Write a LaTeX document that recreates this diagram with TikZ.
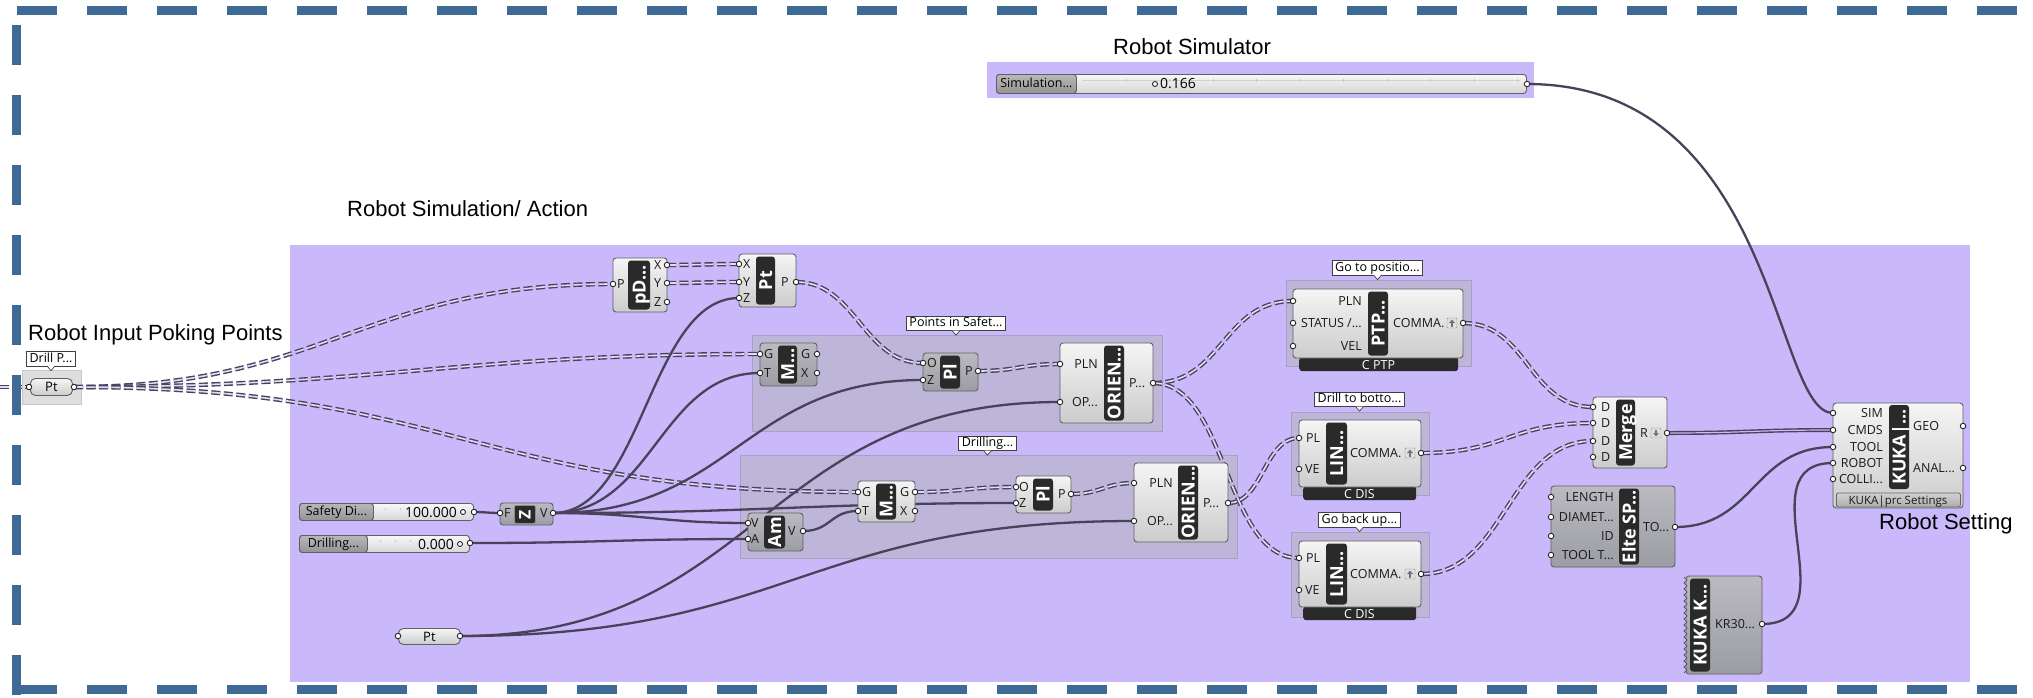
\documentclass[tikz,border=0pt]{standalone}
\usepackage{fontspec}
\setmainfont{Open Sans}
\newfontfamily\titlefont{Liberation Sans}
\usetikzlibrary{calc}
\pgfdeclarelayer{zones}
\pgfdeclarelayer{wires}
\pgfdeclarelayer{front}
\pgfsetlayers{zones,wires,main,front}

\definecolor{canvasviolet}{RGB}{201,184,250}
\definecolor{groupfill}{RGB}{190,182,217}
\definecolor{groupline}{RGB}{168,160,196}
\definecolor{wirecol}{RGB}{72,66,90}
\definecolor{frameblue}{RGB}{64,106,150}
\definecolor{barcol}{RGB}{42,42,42}
\definecolor{edgecol}{RGB}{96,96,100}
\definecolor{dtop}{RGB}{186,186,192}
\definecolor{dbot}{RGB}{156,156,164}

% component: name, style, x1, y1, x2, y2, bar x1, bar x2, bar text
\newcommand\ghc[9]{%
  \node[#2, anchor=north west, minimum width=#5-#3, minimum height=#6-#4] (#1) at (#3,#4) {};
  \node[cbar, anchor=north west, minimum width=#8-#7, minimum height=#6-#4-5] (#1-bar) at (#7,#4+2.5) {};
  \node[bartext] (#1-name) at (#1-bar.center) {#9};}
% grip with its caption: name, x, y, caption x, caption, anchor
\newcommand\gp[6]{%
  \node[port] (#1) at (#2,#3) {};
  \node[plabel, anchor=#6] (#1-t) at (#4,#3) {#5};}
% group caption with pointer: name, x, y, text
\newcommand\gtag[4]{%
  \node[glabel] (#1) at (#2,#3) {#4};
  \draw[black!75, fill=white, line width=0.7pt] ($(#1.south)+(-4,-0.6)$) -- ++(4,4.6) -- ++(4,-4.6);}
% small flatten / graft icons
\newcommand\upicon[3]{%
  \node[icon] (#1) at (#2,#3) {};
  \fill[black!55] (#2-3,#3) -- (#2,#3-3.5) -- (#2+3,#3) -- cycle;
  \draw[black!55, line width=1.3pt] (#2,#3) -- (#2,#3+3.5);}
\newcommand\downicon[3]{%
  \node[icon] (#1) at (#2,#3) {};
  \fill[black!55] (#2-3,#3) -- (#2,#3+3.5) -- (#2+3,#3) -- cycle;
  \draw[black!55, line width=1.3pt] (#2,#3) -- (#2,#3-3.5);}
% wires
\newcommand\wire[4][wireS]{\draw[#1] (#2.center) .. controls +(#4,0) and +(-#4,0) .. (#3.center);}
\newcommand\wirea[5][wireS]{\draw[#1] (#2.center) .. controls +(#4,0) and +(-#5,0) .. (#3.center);}

\begin{document}
\begin{tikzpicture}[x=1pt, y=-1pt,
  zone/.style={fill=canvasviolet, inner sep=0pt, outer sep=0pt},
  grp/.style={fill=groupfill, draw=groupline, line width=0.8pt, inner sep=0pt, outer sep=0pt},
  lightbody/.style={draw=edgecol, line width=0.9pt, rounded corners=3pt, top color=white!96!black, bottom color=white!80!black, inner sep=0pt, outer sep=0pt},
  darkbody/.style={lightbody, top color=dtop, bottom color=dbot},
  cbar/.style={fill=barcol, rounded corners=3pt, inner sep=0pt, outer sep=0pt},
  bartext/.style={text=white, font=\fontsize{18}{18}\selectfont\bfseries, rotate=90, inner sep=0pt, text height=13pt, text depth=0pt},
  port/.style={circle, draw=black!85, fill=white, line width=0.9pt, minimum size=5.5pt, inner sep=0pt},
  plabel/.style={font=\fontsize{12.5}{12.5}\selectfont, text=black!90, inner sep=0pt, text height=9pt, text depth=0pt},
  glabel/.style={draw=black!75, fill=white, line width=0.7pt, font=\fontsize{12.5}{12.5}\selectfont, inner xsep=3pt, inner ysep=1.5pt, text height=9pt, text depth=2.5pt},
  capsule/.style={draw=edgecol, line width=0.9pt, rounded corners=5pt, top color=white!96!black, bottom color=white!80!black, inner sep=0pt, font=\fontsize{13}{13}\selectfont},
  footer/.style={fill=barcol, rounded corners=3pt, inner sep=0pt},
  foottext/.style={text=white, font=\fontsize{12.5}{12.5}\selectfont, inner sep=0pt, text height=9pt, text depth=0pt},
  kfoot/.style={draw=black!60, line width=0.8pt, rounded corners=2pt, top color=white!82!black, bottom color=white!68!black, inner sep=0pt},
  slidebody/.style={draw=edgecol, line width=0.9pt, rounded corners=3pt, top color=white!97!black, bottom color=white!84!black, inner sep=0pt},
  slidelabel/.style={draw=edgecol, line width=0.9pt, rounded corners=3pt, top color=white!72!black, bottom color=white!58!black, inner sep=0pt, font=\fontsize{12.5}{12.5}\selectfont, text height=9pt, text depth=2pt},
  valtext/.style={font=\fontsize{14}{14}\selectfont, inner sep=0pt, text height=10pt, text depth=0pt},
  dot/.style={circle, draw=black!85, line width=0.9pt, minimum size=5pt, inner sep=0pt, fill=white},
  zicon/.style={fill=barcol, draw=black!45, line width=0.8pt, rounded corners=2pt, inner sep=0pt},
  icon/.style={draw=black!45, fill=black!12, rounded corners=1pt, minimum size=10pt, inner sep=0pt},
  title/.style={font=\titlefont\fontsize{22}{22}\selectfont, inner sep=0pt, anchor=base west},
  wireS/.style={draw=wirecol, line width=2.3pt},
  wireL/.style={draw=wirecol, line width=1.4pt, double=canvasviolet!50!white, double distance=1.6pt, dash pattern=on 9pt off 3.5pt},
  wireT/.style={draw=wirecol, line width=1.4pt, double=canvasviolet, double distance=1.2pt},
  frame/.style={draw=frameblue, line width=9pt, dash pattern=on 40pt off 30pt}]
\useasboundingbox (0,0) rectangle (2033,697);

% ---------- canvas zones and groups ----------
\begin{pgfonlayer}{zones}
  \fill[white] (0,0) rectangle (2033,697);
  \node[zone, anchor=north west, minimum width=1680, minimum height=437] (zone-main) at (290,245) {};
  \node[zone, anchor=north west, minimum width=547, minimum height=36] (zone-sim) at (987,62) {};
  \node[grp, anchor=north west, minimum width=410, minimum height=96] (grp-safe) at (752,335) {};
  \node[grp, anchor=north west, minimum width=497, minimum height=103] (grp-drill) at (740,455) {};
  \node[grp, anchor=north west, minimum width=185, minimum height=86] (grp-ptp) at (1286,280) {};
  \node[grp, anchor=north west, minimum width=138, minimum height=83] (grp-lin1) at (1291,412) {};
  \node[grp, anchor=north west, minimum width=138, minimum height=85] (grp-lin2) at (1291,532) {};
  \node[grp, fill=black!13, draw=black!22, anchor=north west, minimum width=59, minimum height=34] (grp-pts) at (22,370) {};
\end{pgfonlayer}

% ---------- titles ----------
\node[title] (t-sim) at (1113,54) {Robot Simulator};
\node[title] (t-act) at (347,216.5) {Robot Simulation/ Action};
\node[title] (t-in) at (28,340) {Robot Input Poking Points};
\node[title] (t-set) at (1879,529) {Robot Setting};

% ---------- input points ----------
\gtag{tag-dp}{51}{359}{Drill P...}
\node[capsule, anchor=north west, minimum width=42, minimum height=17] (dpt) at (30,378) {Pt};
\node[port] (dpt-in) at (29,387) {};
\node[port] (dpt-out) at (74,387) {};

% ---------- deconstruct / construct point ----------
\ghc{pd}{lightbody}{613}{258}{667}{312}{628}{650}{pD...}
\gp{pd-P}{613}{284}{617}{P}{west}
\gp{pd-X}{667}{265}{654}{X}{west}
\gp{pd-Y}{667}{283}{654}{Y}{west}
\gp{pd-Z}{667}{302}{654}{Z}{west}

\ghc{ptc}{lightbody}{739}{254}{796}{307}{756}{775}{Pt}
\gp{ptc-X}{739}{264}{743}{X}{west}
\gp{ptc-Y}{739}{282}{743}{Y}{west}
\gp{ptc-Z}{739}{298}{743}{Z}{west}
\gp{ptc-P}{796}{282}{781}{P}{west}

% ---------- safety group ----------
\gtag{tag-safe}{956}{323.5}{Points in Safet...}
\ghc{mvs}{darkbody}{760}{343}{817}{386}{778}{797}{M...}
\gp{mvs-G}{760}{354}{764}{G}{west}
\gp{mvs-T}{760}{373}{764}{T}{west}
\gp{mvs-Go}{817}{354}{801}{G}{west}
\gp{mvs-X}{817}{373}{801}{X}{west}

\ghc{pls}{darkbody}{923}{353}{978}{391}{940}{960}{Pl}
\gp{pls-O}{923}{363}{927}{O}{west}
\gp{pls-Z}{923}{380}{927}{Z}{west}
\gp{pls-P}{978}{371}{965}{P}{west}

\ghc{ors}{lightbody}{1060}{343}{1153}{423}{1104}{1124}{ORIEN...}
\gp{ors-PLN}{1060}{364}{1098}{PLN}{east}
\gp{ors-OP}{1060}{402}{1098}{OP...}{east}
\gp{ors-P}{1153}{383}{1129}{P...}{west}

% ---------- drilling group ----------
\gtag{tag-drill}{987.5}{443.5}{Drilling...}
\ghc{amp}{darkbody}{748}{513}{803}{551}{764}{785}{Am}
\gp{amp-V}{748}{523}{751}{V}{west}
\gp{amp-A}{748}{539}{751}{A}{west}
\gp{amp-Vo}{803}{531}{788}{V}{west}

\ghc{mvd}{lightbody}{858}{481}{915}{522}{876}{896}{M...}
\gp{mvd-G}{858}{492}{862}{G}{west}
\gp{mvd-T}{858}{511}{862}{T}{west}
\gp{mvd-Go}{915}{492}{900}{G}{west}
\gp{mvd-X}{915}{511}{900}{X}{west}

\ghc{pld}{lightbody}{1016}{476}{1071}{513}{1033}{1053}{Pl}
\gp{pld-O}{1016}{487}{1019}{O}{west}
\gp{pld-Z}{1016}{503}{1019}{Z}{west}
\gp{pld-P}{1071}{494}{1058}{P}{west}

\ghc{ord}{lightbody}{1134}{463}{1228}{542}{1178}{1198}{ORIEN...}
\gp{ord-PLN}{1134}{483}{1173}{PLN}{east}
\gp{ord-OP}{1134}{521}{1173}{OP...}{east}
\gp{ord-P}{1228}{503}{1203}{P...}{west}

% ---------- sliders and unit vector ----------
\node[slidebody, anchor=north west, minimum width=174, minimum height=17] (sd) at (299,503) {};
\foreach \tx in {385,400,415} \draw[black!22, line width=0.6pt] (\tx,508) -- (\tx,510);
\node[slidelabel, anchor=north west, minimum width=74, minimum height=17] (sd-lab) at (299,503) {Safety Di...};
\node[valtext, anchor=east] (sd-val) at (457,512) {100.000};
\node[dot] (sd-dot) at (463,512) {};
\node[port] (sd-out) at (474,512) {};

\node[slidebody, anchor=north west, minimum width=170, minimum height=17] (dsl) at (299,535) {};
\foreach \tx in {380,395,410} \draw[black!22, line width=0.6pt] (\tx,540) -- (\tx,542);
\node[slidelabel, anchor=north west, minimum width=68, minimum height=17] (dsl-lab) at (299,535) {Drilling...};
\node[valtext, anchor=east] (dsl-val) at (454,544) {0.000};
\node[dot] (dsl-dot) at (460,544) {};
\node[port] (dsl-out) at (470,543) {};

\node[darkbody, anchor=north west, minimum width=53, minimum height=22] (uz) at (500,503) {};
\node[zicon, anchor=north west, minimum width=21, minimum height=18] (uz-icon) at (514,505) {};
\node[bartext, font=\fontsize{16}{16}\selectfont\bfseries, text height=11.5pt] (uz-name) at (uz-icon.center) {Z};
\gp{uz-F}{500}{513}{504}{F}{west}
\gp{uz-V}{553}{513}{540}{V}{west}

\node[capsule, anchor=north west, minimum width=62, minimum height=16] (ptb) at (398,628) {Pt};
\node[port] (ptb-in) at (398,636) {};
\node[port] (ptb-out) at (460,636) {};

% ---------- robot commands ----------
\gtag{tag-ptp}{1377.5}{268}{Go to positio...}
\node[footer, anchor=north west, minimum width=159, minimum height=14] (ptp-foot) at (1299,357) {};
\node[foottext] (ptp-foot-t) at (1378.5,365) {C PTP};
\ghc{ptp}{lightbody}{1293}{289}{1463}{358}{1368}{1388}{PTP...}
\gp{ptp-PLN}{1293}{301}{1362}{PLN}{east}
\gp{ptp-ST}{1293}{323}{1362}{STATUS /...}{east}
\gp{ptp-VEL}{1293}{346}{1362}{VEL}{east}
\gp{ptp-C}{1463}{323}{1393}{COMMA.}{west}
\upicon{ptp-ic}{1452}{323}

\gtag{tag-lin1}{1359.5}{399.5}{Drill to botto...}
\node[footer, anchor=north west, minimum width=113, minimum height=14] (lina-foot) at (1303,486) {};
\node[foottext] (lina-foot-t) at (1359.5,494) {C DIS};
\ghc{lina}{lightbody}{1299}{420}{1421}{487}{1326}{1347}{LIN...}
\gp{lina-PL}{1299}{438}{1306}{PL}{west}
\gp{lina-VE}{1299}{469}{1305}{VE}{west}
\gp{lina-C}{1421}{453}{1350}{COMMA.}{west}
\upicon{lina-ic}{1410}{453}

\gtag{tag-lin2}{1359.5}{520}{Go back up...}
\node[footer, anchor=north west, minimum width=113, minimum height=14] (linb-foot) at (1303,606) {};
\node[foottext] (linb-foot-t) at (1359.5,614) {C DIS};
\ghc{linb}{lightbody}{1299}{541}{1421}{607}{1326}{1347}{LIN...}
\gp{linb-PL}{1299}{558}{1306}{PL}{west}
\gp{linb-VE}{1299}{590}{1305}{VE}{west}
\gp{linb-C}{1421}{574}{1350}{COMMA.}{west}
\upicon{linb-ic}{1410}{574}

\ghc{mrg}{lightbody}{1593}{397}{1667}{468}{1616}{1635}{Merge}
\gp{mrg-D1}{1593}{407}{1601}{D}{west}
\gp{mrg-D2}{1593}{423}{1601}{D}{west}
\gp{mrg-D3}{1593}{441}{1601}{D}{west}
\gp{mrg-D4}{1593}{457}{1601}{D}{west}
\gp{mrg-R}{1667}{433}{1640}{R}{west}
\downicon{mrg-ic}{1656}{433}

% ---------- tool and robot ----------
\ghc{elt}{darkbody}{1551}{486}{1675}{567}{1619}{1639}{Elte SP...}
\gp{elt-L}{1551}{497}{1614}{LENGTH}{east}
\gp{elt-D}{1551}{517}{1614}{DIAMET...}{east}
\gp{elt-I}{1551}{536}{1614}{ID}{east}
\gp{elt-T}{1551}{555}{1614}{TOOL T...}{east}
\gp{elt-TO}{1675}{527}{1643}{TO...}{west}

\ghc{kr}{darkbody}{1686}{576}{1762}{674}{1690}{1710}{KUKA K...}
\fill[canvasviolet] (1684,577) \foreach \k in {1,...,16}{ -- ++(3,3) -- ++(-3,3)} -- (1684,673) -- cycle;
\draw[edgecol, line width=0.8pt] (1684,577) \foreach \k in {1,...,16}{ -- ++(3,3) -- ++(-3,3)};
\gp{kr-out}{1762}{624}{1715}{KR30...}{west}

\node[lightbody, anchor=north west, minimum width=130, minimum height=105] (kuka) at (1833,403) {};
\node[cbar, anchor=north west, minimum width=20, minimum height=84] (kuka-bar) at (1889,405) {};
\node[bartext] (kuka-name) at (kuka-bar.center) {KUKA|...};
\node[kfoot, anchor=north west, minimum width=124, minimum height=14] (kuka-foot) at (1836,492.5) {};
\node[plabel, font=\fontsize{11.5}{11.5}\selectfont] (kuka-foot-t) at (1898,500) {KUKA|prc Settings};
\gp{kuka-SIM}{1833}{413}{1883}{SIM}{east}
\gp{kuka-CMDS}{1833}{430}{1883}{CMDS}{east}
\gp{kuka-TOOL}{1833}{447}{1883}{TOOL}{east}
\gp{kuka-ROBOT}{1833}{463}{1883}{ROBOT}{east}
\gp{kuka-COLLI}{1833}{479}{1883}{COLLI...}{east}
\gp{kuka-GEO}{1963}{426}{1913}{GEO}{west}
\gp{kuka-ANAL}{1963}{468}{1913}{ANAL...}{west}

% ---------- simulation slider ----------
\node[slidebody, anchor=north west, minimum width=530, minimum height=19] (sim) at (996,74) {};
\draw[black!18, line width=0.6pt] (1082,80) -- (1520,80);
\foreach \tx in {1126,1169,1213,1256,1300,1343,1387,1430,1474,1517} \draw[black!22, line width=0.6pt] (\tx,79) -- (\tx,82);
\node[slidelabel, anchor=north west, minimum width=80, minimum height=19] (sim-lab) at (996,74) {Simulation...};
\node[dot] (sim-dot) at (1155,84) {};
\node[valtext, anchor=west] (sim-val) at (1160,83) {0.166};
\node[port] (sim-out) at (1527,84) {};

% ---------- connections ----------
\begin{pgfonlayer}{wires}
  \coordinate (stub) at (0,387);
  \draw[wireL] (stub) -- (dpt-in.center);
  \wire[wireL]{dpt-out}{pd-P}{250}
  \wire[wireL]{dpt-out}{mvs-G}{300}
  \wire[wireL]{dpt-out}{mvd-G}{380}
  \wire[wireL]{pd-X}{ptc-X}{30}
  \wire[wireL]{pd-Y}{ptc-Y}{30}
  \wire[wireL]{ptc-P}{pls-O}{60}
  \wire[wireL]{pls-P}{ors-PLN}{40}
  \wire[wireL]{mvd-Go}{pld-O}{50}
  \wire[wireL]{pld-P}{ord-PLN}{30}
  \wire[wireL]{ors-P}{ptp-PLN}{70}
  \wire[wireL]{ors-P}{linb-PL}{75}
  \wire[wireL]{ord-P}{lina-PL}{35}
  \wire[wireL]{ptp-C}{mrg-D1}{65}
  \wire[wireL]{lina-C}{mrg-D2}{85}
  \wire[wireL]{linb-C}{mrg-D3}{85}
  \wire{sd-out}{uz-F}{10}
  \wire{uz-V}{ptc-Z}{90}
  \wire{uz-V}{mvs-T}{100}
  \wire{uz-V}{pls-Z}{180}
  \wire{uz-V}{pld-Z}{200}
  \wire{uz-V}{amp-V}{90}
  \wire{dsl-out}{amp-A}{130}
  \wire{amp-Vo}{mvd-T}{28}
  \wire{ptb-out}{ors-OP}{300}
  \wire{ptb-out}{ord-OP}{330}
  \wirea{sim-out}{kuka-SIM}{250}{60}
  \wire[wireT]{mrg-R}{kuka-CMDS}{80}
  \wire{elt-TO}{kuka-TOOL}{80}
  \wire{kr-out}{kuka-ROBOT}{90}
\end{pgfonlayer}

% ---------- dashed frame ----------
\begin{pgfonlayer}{front}
  \draw[frame, dash phase=25] (16.5,-20) -- (16.5,720);
  \draw[frame, dash phase=33] (-20,10) -- (2060,10);
  \draw[frame, dash phase=33] (-20,689.5) -- (2060,689.5);
\end{pgfonlayer}
\end{tikzpicture}
\end{document}
